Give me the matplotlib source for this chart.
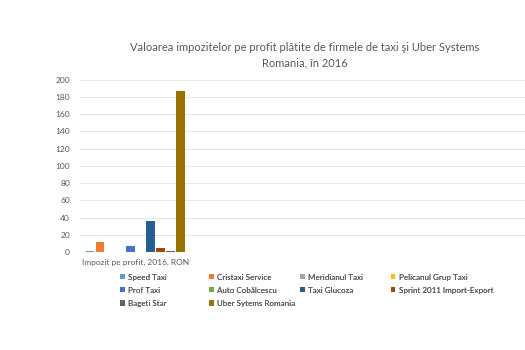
import matplotlib.pyplot as plt

plt.rcParams['font.family'] = ['Lato', 'DejaVu Sans']

firms = ['Speed Taxi', 'Cristaxi Service', 'Meridianul Taxi', 'Pelicanul Grup Taxi',
         'Prof Taxi', 'Auto Cobălcescu', 'Taxi Glucoza', 'Sprint 2011 Import-Export',
         'Bageti Star', 'Uber Sytems Romania']
values = [0.6, 11.8, 0.5, 0.3, 7.5, 0.4, 36.5, 5.0, 0.6, 186.5]
colors = ['#5B9BD5', '#ED7D31', '#A5A5A5', '#FFC000', '#4472C4',
          '#70AD47', '#255E91', '#9E480E', '#636363', '#997300']
category = 'Impozit pe profit, 2016, RON'
yticks = [0, 20, 40, 60, 80, 100, 120, 140, 160, 180, 200]

fig = plt.figure(figsize=(5.25, 3.5), dpi=100)
ax = fig.add_axes([0.152, 0.28, 0.848, 0.492])

step = 0.0905
n = len(firms)
handles = []
for i, (name, v, c) in enumerate(zip(firms, values, colors)):
    b = ax.bar((i - (n - 1) / 2) * step, v, width=step * 0.85, color=c, label=name, zorder=3)
    handles.append(b)

ax.set_xlim(-0.5, 3.5)
ax.set_ylim(0, 200)
ax.set_yticks(yticks)
ax.set_xticks([0])
ax.set_xticklabels([category])
ax.tick_params(axis='y', length=0, labelsize=6, labelcolor='#595959', pad=7)
ax.tick_params(axis='x', length=0, labelsize=6, labelcolor='#595959', pad=5)
ax.grid(axis='y', color='#E6E6E6', linewidth=0.7, zorder=0)
for s in ax.spines.values():
    s.set_visible(False)
ax.axhline(0, color='#D0D0D0', linewidth=0.8, zorder=2)

fig.text(0.581, 0.863, 'Valoarea impozitelor pe profit plătite de firmele de taxi şi Uber Systems',
         ha='center', va='center', fontsize=8.0, color='#595959')
fig.text(0.581, 0.82, 'Romania, în 2016', ha='center', va='center', fontsize=8.0, color='#595959')

# legend laid out row by row in four fixed columns, like the original
col_x = [0.228, 0.398, 0.571, 0.744]
for j, x in enumerate(col_x):
    idx = list(range(j, n, 4))
    leg = fig.legend([handles[k] for k in idx], [firms[k] for k in idx],
                     loc='upper left', bbox_to_anchor=(x, 0.218), ncol=1, frameon=False,
                     fontsize=5.8, handlelength=0.6, handleheight=0.6, borderpad=0,
                     borderaxespad=0, labelspacing=0.75, handletextpad=0.4,
                     labelcolor='#595959')
    fig.add_artist(leg)

fig.savefig('out.png', dpi=100)
